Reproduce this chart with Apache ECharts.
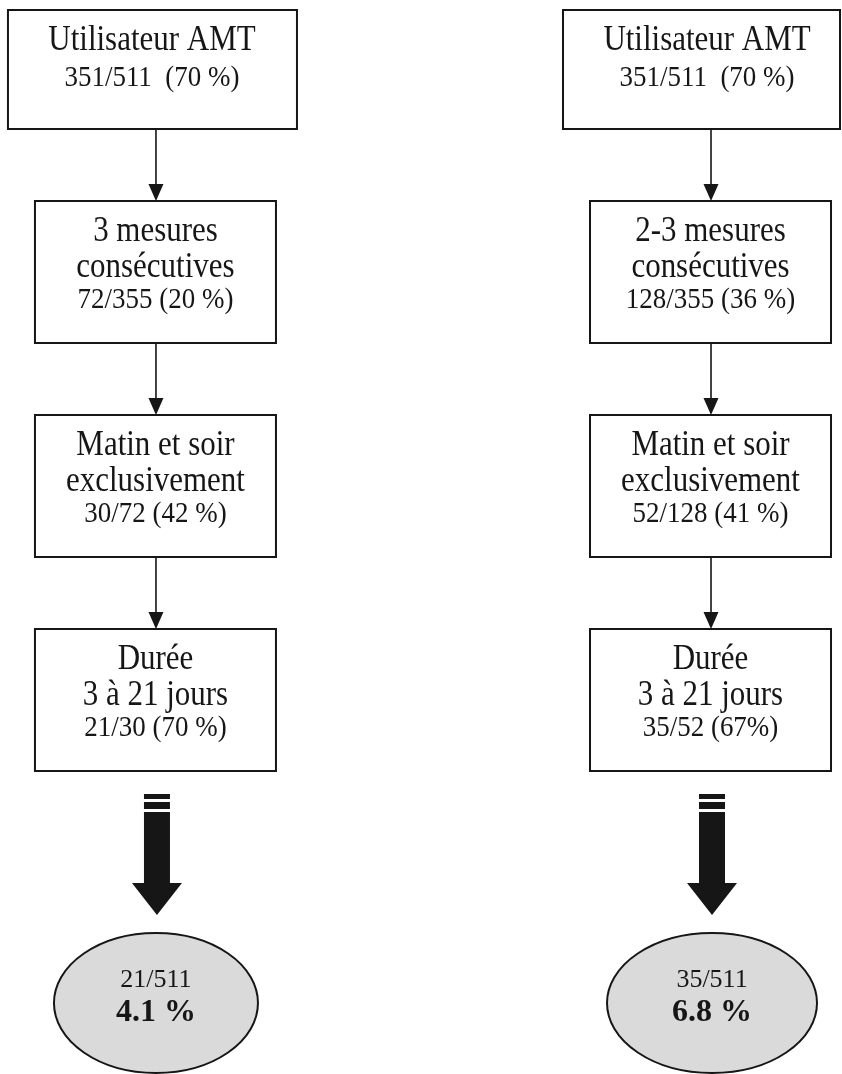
<!DOCTYPE html>
<html><head><meta charset="utf-8">
<script src="https://cdn.jsdelivr.net/npm/echarts@6/dist/echarts.min.js"></script>
<style>html,body{margin:0;padding:0;background:#fff}#c{width:842px;height:1074px}</style>
</head><body><div id="c"></div>
<script>
// ---------- data ----------
const columns = [0, 1];
const stepTitlesA = ['Utilisateur AMT', '3 mesures\nconsécutives', 'Matin et soir\nexclusivement', 'Durée\n3 à 21 jours'];
const stepTitlesB = ['Utilisateur AMT', '2-3 mesures\nconsécutives', 'Matin et soir\nexclusivement', 'Durée\n3 à 21 jours'];
const numeratorsA = [351, 72, 30, 21];
const denominatorsA = [511, 355, 72, 30];
const percentsA = [70, 20, 42, 70];
const numeratorsB = [351, 128, 52, 35];
const denominatorsB = [511, 355, 128, 52];
const percentsB = [70, 36, 41, 67];
const percentUnitsA = [' %', ' %', ' %', ' %'];
const percentUnitsB = [' %', ' %', ' %', '%'];
const resultNumerators = [21, 35];
const resultDenominators = [511, 511];
const resultPercents = [4.1, 6.8];

// ---------- layout / style constants ----------
const FONT = '"Liberation Serif", "DejaVu Serif", serif';
const INK = '#161616';
const titles = [stepTitlesA, stepTitlesB];
const nums = [numeratorsA, numeratorsB];
const dens = [denominatorsA, denominatorsB];
const pcts = [percentsA, percentsB];
const units = [percentUnitsA, percentUnitsB];

function countLabel(col, row) {
  const sep = row === 0 ? '  ' : ' ';
  return nums[col][row] + '/' + dens[col][row] + sep + '(' + pcts[col][row] + units[col][row] + ')';
}
function boxGeom(col, row, cx, bottom) {
  if (row === 0) {
    return { left: cx - 148, right: cx + (col === 0 ? 141 : 129), top: bottom - 119, bottom: bottom };
  }
  return { left: cx - 121, right: cx + 120, top: bottom - 142, bottom: bottom };
}

const boxData = [];
const linkData = [];
columns.forEach(c => {
  for (let r = 0; r < 4; r++) {
    boxData.push([c, r]);
    if (r < 3) linkData.push([c, r]);
  }
});
const resultData = columns.map(c => [c, 3]);

function textEl(x, y, text, size, scaleX, bold) {
  return {
    type: 'text', x: x, y: y, scaleX: scaleX, scaleY: 1,
    style: { text: text, fontFamily: FONT, fontSize: size, fontWeight: bold ? 'bold' : 'normal',
             fill: INK, align: 'center', verticalAlign: 'middle' }
  };
}

const option = {
  animation: false,
  backgroundColor: '#ffffff',
  grid: { left: 0, right: 0, top: 0, bottom: 0 },
  xAxis: { type: 'value', min: -0.281, max: 1.236, show: false },
  yAxis: { type: 'value', inverse: true, min: -0.6028, max: 4.4159, show: false },
  series: [
    {
      type: 'custom', clip: false, data: boxData,
      renderItem: function (params, api) {
        const col = api.value(0), row = api.value(1);
        const p = api.coord([col, row]);
        const g = boxGeom(col, row, p[0], p[1]);
        const lines = titles[col][row].split('\n');
        const tx = row === 0 ? p[0] - 4 : (g.left + g.right) / 2;
        const children = [{
          type: 'rect',
          shape: { x: g.left, y: g.top, width: g.right - g.left, height: g.bottom - g.top },
          style: { fill: '#fff', stroke: INK, lineWidth: 2 }
        }];
        lines.forEach((t, i) => children.push(textEl(tx, g.top + 31 + 36 * i, t, 36, 0.86, false)));
        const ny = g.top + 68 + 31 * (lines.length - 1);
        children.push(textEl(tx, ny, countLabel(col, row), 29, 0.93, false));
        return { type: 'group', children: children };
      }
    },
    {
      type: 'custom', clip: false, data: linkData,
      renderItem: function (params, api) {
        const col = api.value(0), row = api.value(1);
        const p0 = api.coord([col, row]);
        const p1 = api.coord([col, row + 1]);
        const g1 = boxGeom(col, row + 1, p1[0], p1[1]);
        const x = p0[0], y0 = p0[1], y1 = g1.top;
        return { type: 'group', children: [
          { type: 'line', shape: { x1: x, y1: y0, x2: x, y2: y1 - 14 }, style: { stroke: INK, lineWidth: 1.6 } },
          { type: 'polygon', shape: { points: [[x - 7.5, y1 - 17], [x + 7.5, y1 - 17], [x, y1]] }, style: { fill: INK } }
        ] };
      }
    },
    {
      type: 'custom', clip: false, data: resultData,
      renderItem: function (params, api) {
        const col = api.value(0), row = api.value(1);
        const p = api.coord([col, row]);
        const x = p[0] + 1, b = p[1];
        const rx = col === 0 ? 102 : 105, ry = 70;
        const cy = b + 232;
        const ex = p[0] + (col === 0 ? 0 : 1);
        const path = 'M' + (ex - rx) + ' ' + cy + ' A' + rx + ' ' + ry + ' 0 1 0 ' + (ex + rx) + ' ' + cy +
                     ' A' + rx + ' ' + ry + ' 0 1 0 ' + (ex - rx) + ' ' + cy + ' Z';
        return { type: 'group', children: [
          { type: 'rect', shape: { x: x - 13, y: b + 23, width: 26, height: 5 }, style: { fill: INK } },
          { type: 'rect', shape: { x: x - 13, y: b + 31, width: 26, height: 7 }, style: { fill: INK } },
          { type: 'rect', shape: { x: x - 13, y: b + 41, width: 26, height: 72 }, style: { fill: INK } },
          { type: 'polygon', shape: { points: [[x - 25, b + 112], [x + 25, b + 112], [x, b + 144]] }, style: { fill: INK } },
          { type: 'path', shape: { pathData: path }, style: { fill: '#dadada', stroke: INK, lineWidth: 2 } },
          textEl(ex, cy - 23, resultNumerators[col] + '/' + resultDenominators[col], 26, 1, false),
          textEl(ex, cy + 10, resultPercents[col].toFixed(1) + ' %', 32, 1, true)
        ] };
      }
    }
  ]
};
const chart = echarts.init(document.getElementById('c'), null, { renderer: 'canvas' });
chart.setOption(option);
</script></body></html>
